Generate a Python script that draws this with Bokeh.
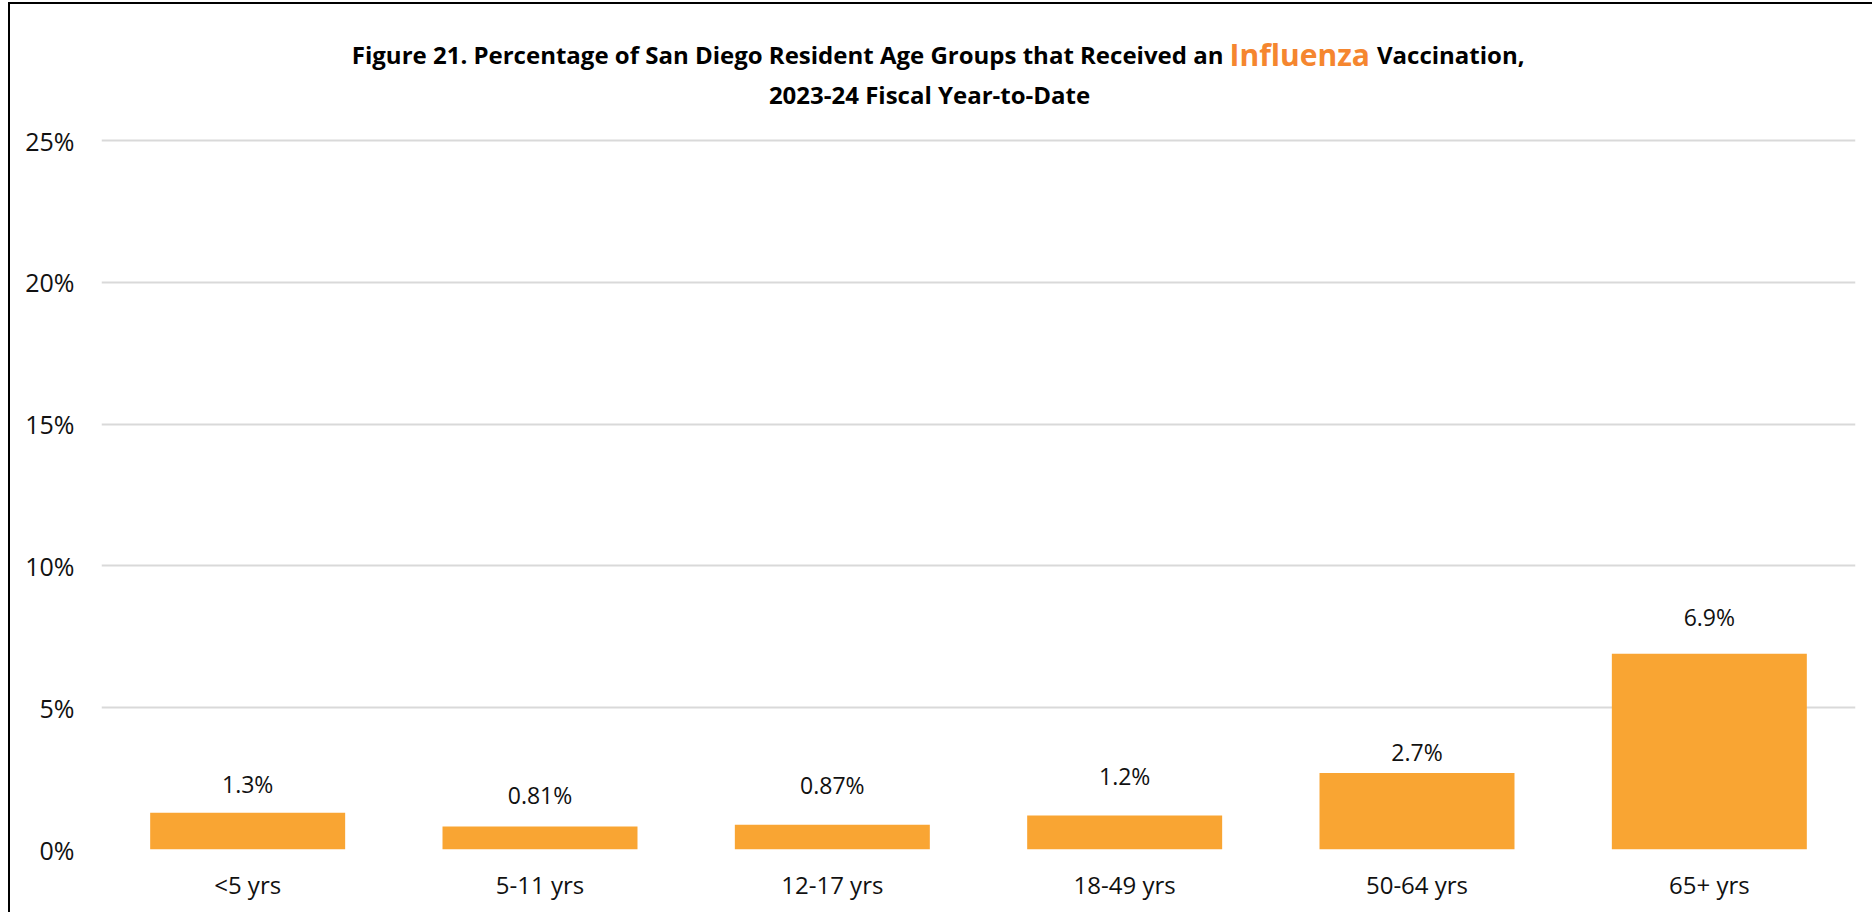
from bokeh.plotting import figure
from bokeh.layouts import column
from bokeh.models import ColumnDataSource, FactorRange, Range1d, FixedTicker, CustomJSTickFormatter
from bokeh.core.properties import value
from bokeh.embed import file_html
from bokeh.resources import INLINE

# ---- data ----
categories = ["<5 yrs", "5-11 yrs", "12-17 yrs", "18-49 yrs", "50-64 yrs", "65+ yrs"]
percent_vaccinated = [1.3, 0.81, 0.87, 1.2, 2.7, 6.9]
y_ticks = [0, 5, 10, 15, 20, 25]
title_part_a = "Figure 21. Percentage of San Diego Resident Age Groups that Received an"
title_highlight = "Influenza"
title_part_c = "Vaccination,"
title_line2 = "2023-24 Fiscal Year-to-Date"

# ---- style ----
label_gap = [29, 32, 40, 39, 21, 37]  # px offsets of labels above bar tops
BAR = "#F9A533"
HIGHLIGHT = "#F5862F"
GRID = "#D9D9D9"
FONT = "Open Sans"
W = 1862

labels = [f"{v:g}%" for v in percent_vaccinated]
src = ColumnDataSource(dict(cat=categories, val=percent_vaccinated, txt=labels,
                            dy=[-g for g in label_gap]))

# ---- title strip ----
TH = 110
t = figure(width=W, height=TH, x_range=Range1d(0, W), y_range=Range1d(0, TH),
           output_backend="svg", toolbar_location=None, title=None,
           min_border_left=0, min_border_right=0, min_border_top=0, min_border_bottom=0)
t.axis.visible = False
t.grid.visible = False
t.outline_line_color = None
common = dict(text_font=value(FONT), text_font_style="bold", text_baseline="alphabetic")
t.text(x=[1191], y=[60], text=[title_part_a], text_align="right", text_font_size="24px",
       text_color="#000000", **common)
t.text(x=[1272], y=[60], text=[title_highlight], text_align="center", text_font_size="30px",
       text_color=HIGHLIGHT, **common)
t.text(x=[1354], y=[60], text=[title_part_c], text_align="left", text_font_size="24px",
       text_color="#000000", **common)
t.text(x=[879], y=[20], text=[title_line2], text_align="center", text_font_size="24px",
       text_color="#000000", **common)

# ---- chart ----
p = figure(width=W, height=798, x_range=FactorRange(*categories), y_range=Range1d(0, 25.776),
           output_backend="svg", toolbar_location=None, title=None,
           min_border_left=91, min_border_right=17, min_border_top=4, min_border_bottom=63)
p.outline_line_color = None

p.vbar(x="cat", top="val", width=0.667, source=src, fill_color=BAR, line_color=None)
p.text(x="cat", y="val", text="txt", y_offset="dy", source=src, text_align="center",
       text_baseline="alphabetic", text_font=value(FONT), text_font_size="23px", text_color="#111111")

p.yaxis.ticker = FixedTicker(ticks=y_ticks)
p.yaxis.formatter = CustomJSTickFormatter(code="return tick + '%';")
p.yaxis.axis_line_color = None
p.yaxis.major_tick_line_color = None
p.yaxis.minor_tick_line_color = None
p.yaxis.major_label_text_font = FONT
p.yaxis.major_label_text_font_size = "25px"
p.yaxis.major_label_text_color = "#111111"
p.yaxis.major_label_standoff = 21
p.ygrid.grid_line_color = GRID
p.ygrid.grid_line_width = 2
p.ygrid.ticker = FixedTicker(ticks=y_ticks)

p.xaxis.axis_line_color = None
p.xaxis.major_tick_line_color = None
p.xaxis.minor_tick_line_color = None
p.xaxis.major_label_text_font = FONT
p.xaxis.major_label_text_font_size = "24px"
p.xaxis.major_label_text_color = "#111111"
p.xaxis.major_label_standoff = 12
p.xgrid.grid_line_color = None

layout = column(t, p, spacing=0)
layout.styles = {"border-left": "2px solid #000", "border-top": "2px solid #000",
                 "margin-left": "8px", "margin-top": "2px"}

open("out.html", "w").write(file_html(layout, INLINE))
